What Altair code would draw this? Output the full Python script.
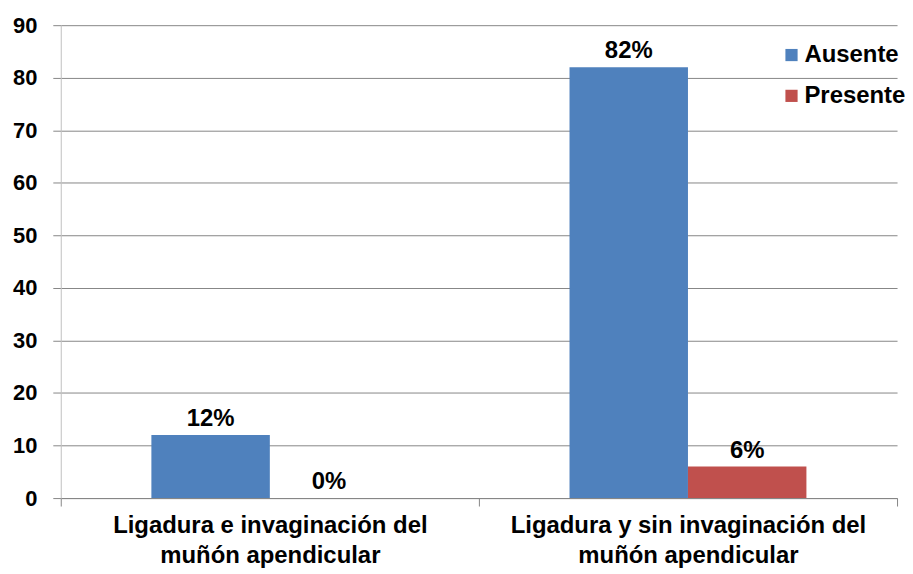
import altair as alt
import pandas as pd

categories = ["Ligadura e invaginación del|muñón apendicular",
              "Ligadura y sin invaginación del|muñón apendicular"]
series = ["Ausente", "Presente"]
ausente = [12, 82]
presente = [0, 6]
colors = ["#4F81BD", "#C0504D"]

rows = []
for i, c in enumerate(categories):
    rows.append({"cat": c, "serie": "Ausente", "val": ausente[i], "lab": f"{ausente[i]}%"})
    rows.append({"cat": c, "serie": "Presente", "val": presente[i], "lab": f"{presente[i]}%"})
df = pd.DataFrame(rows)

FONT = "Liberation Sans"
GRID = "#868686"

x = alt.X("cat:N", sort=categories, title=None,
          scale=alt.Scale(paddingInner=0, paddingOuter=0),
          axis=alt.Axis(labelAngle=0, labelExpr="split(datum.label, '|')",
                        labelFont=FONT, labelFontSize=24, labelFontWeight="bold",
                        labelColor="black", labelLineHeight=30, labelBaseline="top",
                        labelPadding=8, tickBand="extent", tickSize=8,
                        tickColor=GRID, domainColor=GRID, labelLimit=500))
xo = alt.XOffset("serie:N", sort=series,
                 scale=alt.Scale(paddingInner=0, paddingOuter=0.765))
y = alt.Y("val:Q", title=None,
          scale=alt.Scale(domain=[0, 90], nice=False),
          axis=alt.Axis(values=list(range(0, 91, 10)), labelFont=FONT,
                        labelFontSize=22, labelFontWeight="bold", labelColor="black",
                        labelPadding=16, tickSize=8, tickColor=GRID,
                        gridColor=GRID, domainColor="#BFBFBF"))

bars = alt.Chart(df).mark_bar().encode(
    x=x, xOffset=xo, y=y,
    color=alt.Color("serie:N", sort=series, title=None,
                    scale=alt.Scale(domain=series, range=colors),
                    legend=alt.Legend(orient="none", legendX=722, legendY=18,
                                      symbolType="square", symbolSize=150,
                                      symbolStrokeWidth=0,
                                      labelFont=FONT, labelFontSize=24,
                                      labelFontWeight="bold", labelColor="black",
                                      rowPadding=17, padding=0, labelOffset=1)),
)

labels = alt.Chart(df).mark_text(
    font=FONT, fontSize=24, fontWeight="bold", color="black",
    baseline="bottom", dy=-4
).encode(x=x, xOffset=xo, y=y, text="lab:N")

chart = (bars + labels).properties(
    width=840, height=475,
    autosize=alt.AutoSizeParams(type="none"),
    padding={"left": 53, "top": 16, "right": 8, "bottom": 70},
).configure_view(stroke=None).configure_axis(grid=True).configure_axisX(grid=False)

chart.save("out.html", embed_options={"renderer": "svg", "actions": False})
